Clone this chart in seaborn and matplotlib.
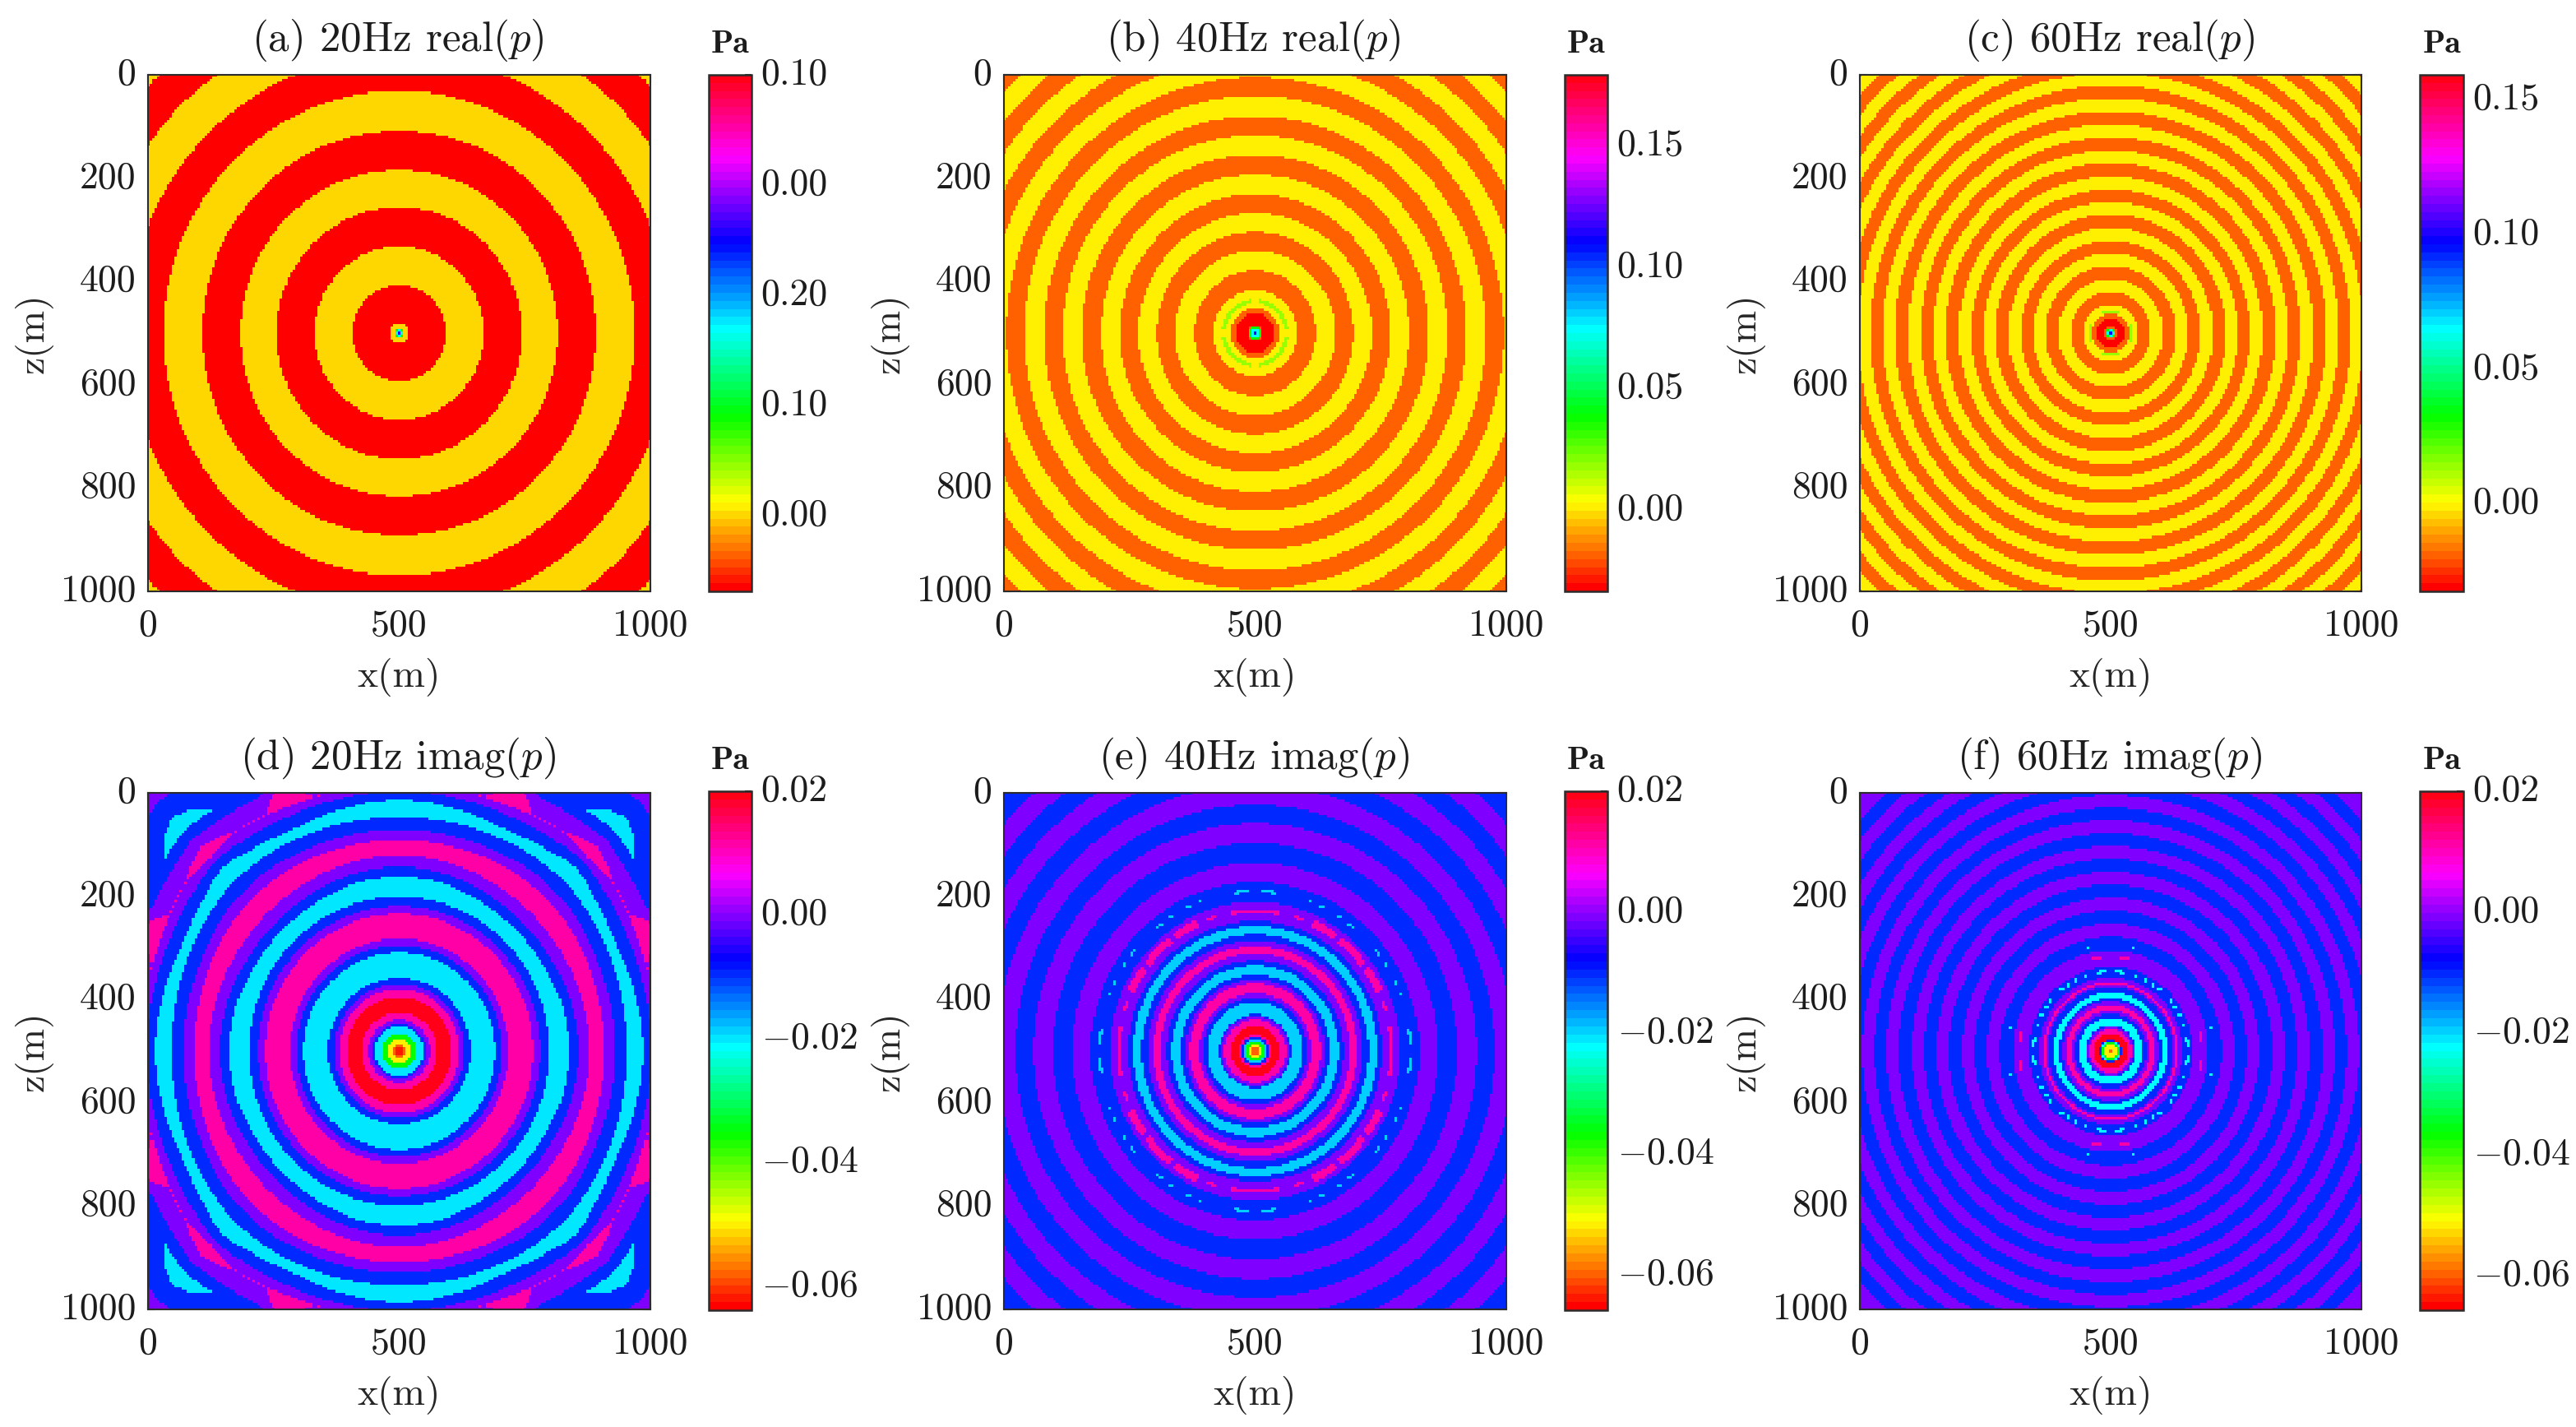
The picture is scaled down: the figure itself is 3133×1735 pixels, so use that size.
#!/usr/bin/env python
"""Pressure wavefields at 20, 40 and 60 Hz, real and imaginary parts."""

import colorsys

import matplotlib.pyplot as plt
import numpy as np
import seaborn as sns
from matplotlib.colors import ListedColormap
from matplotlib.transforms import ScaledTranslation

# --- values ------------------------------------------------------------------
# edges: outer radius (m) of each ring from the source out, levels: Pa per ring
# (one more level than edges). arcs: r_in, r_out, angle_from, angle_to, Pa
grid_m = np.arange(0, 1005, 5)
x_ticks = [0, 500, 1000]
z_ticks = [0, 200, 400, 600, 800, 1000]

a_edges = [4, 6, 8, 20, 93, 168, 244, 316, 392, 469, 542, 619, 693]
a_levels = [0.26, 0.17, 0.09, 0.0, -0.065, 0.0, -0.065, 0.0, -0.065, 0.0,
            -0.065, 0.0, -0.065, 0.0]

b_edges = [5, 9, 12, 15, 39, 49, 83, 121, 159, 196, 232, 269, 307, 345, 383,
           420, 459, 496, 535, 572, 610, 647, 685, 722]
b_levels = [0.111, 0.0745, 0.038, -0.0185, -0.033, -0.0185, 0.001, -0.0185,
            0.001, -0.0185, 0.001, -0.0185, 0.001, -0.0185, 0.001, -0.0185,
            0.001, -0.0185, 0.001, -0.0185, 0.001, -0.0185, 0.001, -0.0185,
            0.001]
b_arcs = [(58, 66, 8, 46, 0.018)]

c_edges = [4, 7, 10, 13, 27, 37, 55, 80, 105, 130, 155, 179, 204, 230, 254,
           278, 303, 329, 354, 379, 404, 430, 455, 480, 505, 530, 555, 580,
           605, 630, 655, 680, 705]
c_levels = [0.098, 0.0649, 0.0319, -0.019, -0.032, -0.019, -0.001, -0.019,
            -0.001, -0.019, -0.001, -0.019, -0.001, -0.019, -0.001, -0.019,
            -0.001, -0.019, -0.001, -0.019, -0.001, -0.019, -0.001, -0.019,
            -0.001, -0.019, -0.001, -0.019, -0.001, -0.019, -0.001, -0.019,
            -0.001, -0.019]
c_arcs = [(40, 43, 0, 22, 0.0139)]

# 20 Hz imag: the outer rings change along the angle, so they come per spoke
d_spokes = [0, 15, 19, 25, 30, 38, 41, 45]
d_inner = [8, 14, 25, 35, 48, 53, 61, 75, 105, 120, 130, 142, 191, 205, 218,
           266, 281, 299]
d_outer_00 = [338, 357, 379, 408, 429, 452, 487, 505, 540, 540, 570, 600, 600, 650]
d_outer_15 = [336, 355, 378, 410, 430, 455, 482, 503, 518, 518, 560, 590, 590, 640]
d_outer_19 = [335, 354, 377, 410, 431, 456, 480, 503, 520, 522, 562, 585, 585, 640]
d_outer_25 = [332, 352, 376, 412, 432, 458, 478, 505, 522, 570, 575, 582, 582, 650]
d_outer_30 = [331, 351, 375, 414, 434, 460, 481, 507, 528, 530, 565, 580, 580, 655]
d_outer_38 = [330, 350, 375, 415, 437, 463, 490, 513, 535, 537, 572, 595, 595, 670]
d_outer_41 = [330, 350, 375, 415, 438, 464, 495, 516, 535, 548, 575, 600, 622, 675]
d_outer_45 = [330, 350, 375, 415, 438, 465, 500, 518, 530, 560, 582, 605, 640, 680]
d_levels = [-0.0625, -0.058, -0.0501, -0.0357, -0.02, -0.0095, -0.0003, 0.0114,
            0.0193, 0.0114, -0.0003, -0.0095, -0.02, -0.0095, -0.0003, 0.0114,
            -0.0003, -0.0095, -0.02, -0.0095, -0.0003, 0.0114, -0.0003, -0.0095,
            -0.02, -0.0095, -0.0003, 0.0114, -0.0003, -0.0095, -0.02, -0.0095,
            -0.0003]

e_edges = [8, 12, 19, 25, 29, 33, 49, 61, 68, 71, 95, 104, 112, 131, 139, 148,
           166, 176, 189, 203, 214, 226, 242, 252, 289, 327, 364, 403, 441, 477,
           516, 553, 591, 628, 666, 720]
e_levels = [-0.0598, -0.0517, -0.037, -0.0196, -0.0102, 0.0113, 0.0193, 0.0113,
            -0.0008, -0.0102, -0.0196, -0.0102, -0.0008, 0.0113, -0.0008, -0.0102,
            -0.0196, -0.0102, -0.0008, 0.0113, -0.0008, -0.0102, -0.0196, -0.0102,
            -0.0008, -0.0102, -0.0008, -0.0102, -0.0008, -0.0102, -0.0008, -0.0102,
            -0.0008, -0.0102, -0.0008, -0.0102, -0.0008]
e_arcs = [(268, 275, 0, 10, 0.0113), (268, 275, 17, 21, 0.0113),
          (266, 280, 25, 36, 0.0113), (266, 280, 38, 46, 0.0113),
          (307, 312, 2, 8, -0.0196), (307, 312, 20, 21, -0.0196),
          (307, 312, 24, 26, -0.0196), (307, 312, 32, 34, -0.0196),
          (307, 312, 37, 40, -0.0196)]

f_edges = [5, 12, 16, 20, 22, 34, 42, 47, 50, 65, 72, 79, 89, 97, 102, 113, 124,
           129, 134, 143, 163, 195, 221, 247, 272, 297, 322, 347, 372, 397, 422,
           447, 471, 496, 521, 546, 571, 596, 621, 646, 671, 710]
f_levels = [-0.0598, -0.0517, -0.037, -0.0222, -0.0102, 0.0193, 0.0113, -0.0008,
            -0.0102, -0.0222, -0.0102, -0.0008, 0.0113, -0.0008, -0.0102, -0.0222,
            -0.0102, -0.0008, 0.0113, -0.0008, -0.0102, -0.0008, -0.0102, -0.0008,
            -0.0102, -0.0008, -0.0102, -0.0008, -0.0102, -0.0008, -0.0102, -0.0008,
            -0.0102, -0.0008, -0.0102, -0.0008, -0.0102, -0.0008, -0.0102, -0.0008,
            -0.0102, -0.0008, -0.0102]
f_arcs = [(181, 185, 0, 12, 0.0113), (181, 185, 18, 20, 0.0113),
          (151, 157, 3, 10, -0.0222), (151, 157, 18, 20, -0.0222),
          (151, 157, 25, 28, -0.0222), (151, 157, 33, 35, -0.0222),
          (151, 157, 38, 41, -0.0222), (202, 206, 12, 15, -0.0222)]

titles = ["(a) 20Hz real($p$)", "(b) 40Hz real($p$)", "(c) 60Hz real($p$)",
          "(d) 20Hz imag($p$)", "(e) 40Hz imag($p$)", "(f) 60Hz imag($p$)"]
color_ranges = [(-0.0683, 0.4), (-0.0334, 0.179), (-0.0326, 0.1593),
                (-0.0639, 0.02), (-0.0658, 0.02), (-0.0657, 0.02)]
bar_ticks = [[0.0, 0.1, 0.2, 0.3, 0.4],
             [0.0, 0.05, 0.10, 0.15],
             [0.0, 0.05, 0.10, 0.15],
             [-0.06, -0.04, -0.02, 0.0, 0.02],
             [-0.06, -0.04, -0.02, 0.0, 0.02],
             [-0.06, -0.04, -0.02, 0.0, 0.02]]
bar_labels = [["0.00", "0.10", "0.20", "0.00", "0.10"],
              ["0.00", "0.05", "0.10", "0.15"],
              ["0.00", "0.05", "0.10", "0.15"],
              ["$-$0.06", "$-$0.04", "$-$0.02", "0.00", "0.02"],
              ["$-$0.06", "$-$0.04", "$-$0.02", "0.00", "0.02"],
              ["$-$0.06", "$-$0.04", "$-$0.02", "0.00", "0.02"]]

# panel and colour bar boxes in pixels: left, top, right, bottom
W, H = 3133, 1735
panel_boxes = [(180, 91, 791, 719), (1221, 91, 1832, 719), (2262, 91, 2872, 719),
               (180, 964, 791, 1592), (1221, 964, 1832, 1592), (2262, 964, 2872, 1592)]
bar_boxes = [(862, 91, 914, 719), (1903, 91, 1955, 719), (2943, 91, 2996, 719),
             (862, 962, 914, 1593), (1903, 962, 1955, 1593), (2943, 962, 2996, 1593)]

DARK = "#2b2b2b"


def ring_field(spoke_edges, levels, spokes=(0, 45), arcs=()):
    """Give each 5 m cell the level of the ring it falls in."""
    xx, zz = np.meshgrid(grid_m, grid_m)
    dx, dz = np.abs(xx - 500.0), np.abs(zz - 500.0)
    r = np.hypot(dx, dz)
    angle = np.degrees(np.arctan2(np.minimum(dx, dz), np.maximum(dx, dz)))

    spoke_edges = np.asarray(spoke_edges, dtype=float)
    ring = np.zeros_like(r, dtype=int)
    for j in range(spoke_edges.shape[1]):
        ring += r >= np.interp(angle, spokes, spoke_edges[:, j])
    field = np.asarray(levels)[ring]
    for r0, r1, a0, a1, value in arcs:
        field[(r >= r0) & (r < r1) & (angle >= a0) & (angle < a1)] = value
    return field


def to_axes_rect(box):
    left, top, right, bottom = box
    return [left / W, 1 - bottom / H, (right - left) / W, (bottom - top) / H]


def main() -> None:
    sns.set_style("ticks")
    plt.rcParams["font.family"] = ["cmr10"]
    plt.rcParams["mathtext.fontset"] = "cm"
    plt.rcParams["axes.unicode_minus"] = False
    plt.rcParams["axes.formatter.use_mathtext"] = True
    plt.rcParams["text.color"] = "#1c1c1c"

    hsv64 = ListedColormap([colorsys.hsv_to_rgb(k / 64, 1, 1) for k in range(64)])

    fields = [
        ring_field([a_edges, a_edges], a_levels),
        ring_field([b_edges, b_edges], b_levels, arcs=b_arcs),
        ring_field([c_edges, c_edges], c_levels, arcs=c_arcs),
        ring_field([d_inner + d_outer_00, d_inner + d_outer_15, d_inner + d_outer_19,
                    d_inner + d_outer_25, d_inner + d_outer_30, d_inner + d_outer_38,
                    d_inner + d_outer_41, d_inner + d_outer_45], d_levels, spokes=d_spokes),
        ring_field([e_edges, e_edges], e_levels, arcs=e_arcs),
        ring_field([f_edges, f_edges], f_levels, arcs=f_arcs),
    ]

    fig = plt.figure(figsize=(W / 300, H / 300), dpi=300)
    label_up = ScaledTranslation(0, 1.1 / 72, fig.dpi_scale_trans)
    for i, field in enumerate(fields):
        ax = fig.add_axes(to_axes_rect(panel_boxes[i]))
        cax = fig.add_axes(to_axes_rect(bar_boxes[i]))
        vmin, vmax = color_ranges[i]
        sns.heatmap(field, ax=ax, cbar_ax=cax, cmap=hsv64, vmin=vmin, vmax=vmax,
                    xticklabels=False, yticklabels=False)

        # cell i sits at index i + 0.5 in heatmap coordinates
        ax.set_xlim(0.5, len(grid_m) - 0.5)
        ax.set_ylim(len(grid_m) - 0.5, 0.5)
        ax.set_xticks([np.searchsorted(grid_m, t) + 0.5 for t in x_ticks])
        ax.set_xticklabels([str(t) for t in x_ticks], rotation=0)
        ax.set_yticks([np.searchsorted(grid_m, t) + 0.5 for t in z_ticks])
        ax.set_yticklabels([str(t) for t in z_ticks], rotation=0)
        ax.tick_params(axis="x", direction="in", length=2.2, width=0.5, color=DARK,
                       labelsize=11, pad=5, top=True, bottom=True, labelcolor="#1c1c1c")
        ax.tick_params(axis="y", direction="in", length=2.2, width=0.5, color=DARK,
                       labelsize=11, pad=3.5, left=True, right=True, labelcolor="#1c1c1c")
        for label in ax.get_yticklabels():
            label.set_transform(label.get_transform() + label_up)
        for spine in ax.spines.values():
            spine.set_visible(True)
            spine.set_linewidth(0.5)
            spine.set_color(DARK)

        ax.set_title(titles[i], fontsize=12.25, pad=7, x=0.497)
        ax.set_xlabel("x(m)", fontsize=11.4, va="center")
        ax.set_ylabel("z(m)", fontsize=11.4, va="center")
        ax.xaxis.set_label_coords(0.5, -0.166)
        ax.yaxis.set_label_coords(-0.2275, 0.5)

        cbar = ax.collections[0].colorbar
        cbar.set_ticks(bar_ticks[i])
        cbar.set_ticklabels(bar_labels[i])
        cax.tick_params(direction="in", length=2, width=0.5, color=DARK, labelsize=11,
                        pad=2.8, right=True, left=False, labelcolor="#1c1c1c")
        for label in cax.get_yticklabels():
            label.set_transform(label.get_transform() + label_up)
        cbar.outline.set_visible(True)
        cbar.outline.set_linewidth(0.6)
        cbar.outline.set_edgecolor(DARK)
        cax.set_title("Pa", fontsize=9.6, pad=6.5, family=["cmb10"])

    fig.savefig("out.png", dpi=300)
    plt.close(fig)


if __name__ == "__main__":
    main()
